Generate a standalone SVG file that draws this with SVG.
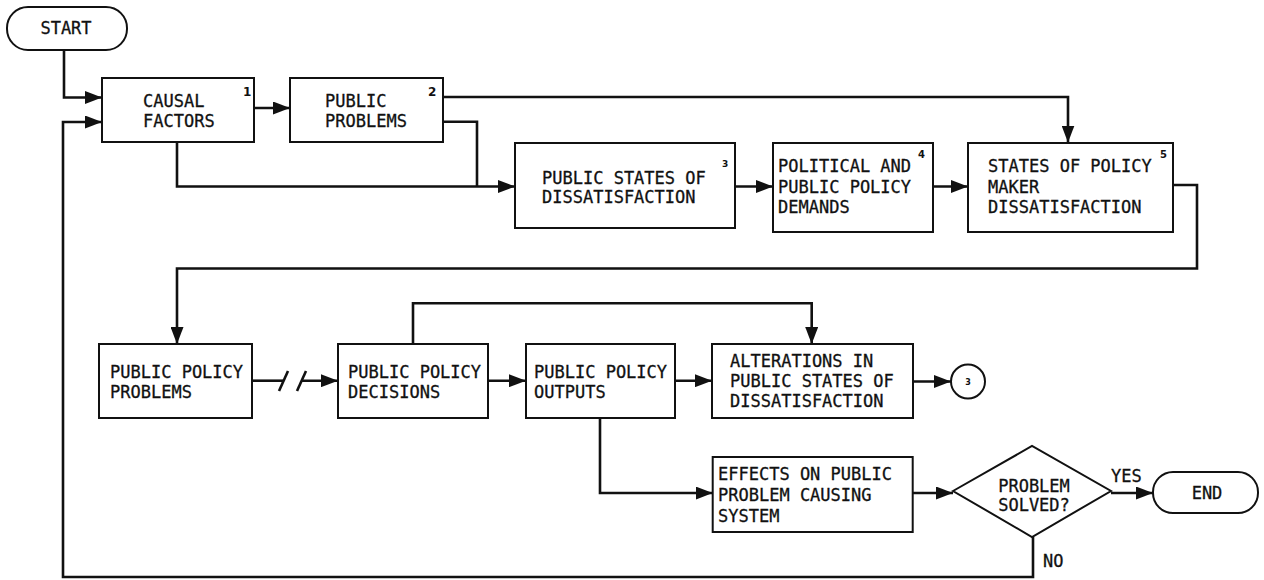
<svg xmlns="http://www.w3.org/2000/svg" width="1264" height="580" viewBox="0 0 1264 580">
  <style>
    .box { fill: #fff; stroke: #111; stroke-width: 2; }
    .wire { fill: none; stroke: #111; stroke-width: 2.6; stroke-linejoin: miter; }
    .lbl { font-family: "DejaVu Sans Mono", "Liberation Mono", monospace; font-size: 17px; fill: #111; stroke: #111; stroke-width: 0.3; }
    .mid { text-anchor: middle; }
    .num { font-family: "DejaVu Sans", "Liberation Sans", sans-serif; font-weight: bold; fill: #111; }
  </style>
  <defs>
    <marker id="arrow" markerUnits="userSpaceOnUse" markerWidth="17" markerHeight="13" refX="17" refY="6.5" orient="auto">
      <path d="M0,0 L17,6.5 L0,13 z" fill="#111"/>
    </marker>
  </defs>

  <rect width="1264" height="580" fill="#fff"/>

  <!-- connectors -->
  <g id="connectors">
    <path class="wire" d="M64,50 V97.5 H102" marker-end="url(#arrow)"/>
    <path class="wire" d="M1033,537 V577 H63 V122 H102" marker-end="url(#arrow)"/>
    <path class="wire" d="M254,108 H290" marker-end="url(#arrow)"/>
    <path class="wire" d="M177,142 V186.5 H515" marker-end="url(#arrow)"/>
    <path class="wire" d="M443,121.7 H477 V186.5"/>
    <path class="wire" d="M443,97 H1068 V142.5" marker-end="url(#arrow)"/>
    <path class="wire" d="M735,186.5 H773" marker-end="url(#arrow)"/>
    <path class="wire" d="M933,186.5 H968" marker-end="url(#arrow)"/>
    <path class="wire" d="M1173,185 H1197 V268.5 H177 V344" marker-end="url(#arrow)"/>
    <!-- broken-line link with two break strokes -->
    <path class="wire" d="M252,380.7 H284"/>
    <path class="wire" d="M279,391 L288,371"/>
    <path class="wire" d="M297,391 L306,371"/>
    <path class="wire" d="M302,380.7 H338" marker-end="url(#arrow)"/>
    <path class="wire" d="M488,380.7 H526" marker-end="url(#arrow)"/>
    <path class="wire" d="M413,344 V303.3 H811.7 V344" marker-end="url(#arrow)"/>
    <path class="wire" d="M675,380.7 H712" marker-end="url(#arrow)"/>
    <path class="wire" d="M913,381.5 H951" marker-end="url(#arrow)"/>
    <path class="wire" d="M600,418 V493 H712.7" marker-end="url(#arrow)"/>
    <path class="wire" d="M912.5,493 H953" marker-end="url(#arrow)"/>
    <path class="wire" d="M1111,493 H1153" marker-end="url(#arrow)"/>
  </g>

  <g id="start">
    <rect class="box" x="7" y="7" width="120" height="43" rx="21" ry="21"/>
    <text class="lbl mid" x="66" y="34">START</text>
  </g>

  <g id="causal-factors">
    <rect class="box" x="102" y="78" width="152" height="64"/>
    <text class="lbl" x="143" y="107">CAUSAL</text>
    <text class="lbl" x="143" y="127">FACTORS</text>
    <text class="num" x="243" y="96" font-size="12">1</text>
  </g>

  <g id="public-problems">
    <rect class="box" x="290" y="78" width="153" height="64"/>
    <text class="lbl" x="325" y="107">PUBLIC</text>
    <text class="lbl" x="325" y="127">PROBLEMS</text>
    <text class="num" x="428" y="96" font-size="12">2</text>
  </g>

  <g id="public-states">
    <rect class="box" x="515" y="143" width="220" height="85"/>
    <text class="lbl" x="542" y="184">PUBLIC STATES OF</text>
    <text class="lbl" x="542" y="203">DISSATISFACTION</text>
    <text class="num" x="722" y="167" font-size="9">3</text>
  </g>

  <g id="political-demands">
    <rect class="box" x="773" y="143" width="160" height="89"/>
    <text class="lbl" x="778" y="172">POLITICAL AND</text>
    <text class="lbl" x="778" y="193">PUBLIC POLICY</text>
    <text class="lbl" x="778" y="213">DEMANDS</text>
    <text class="num" x="918" y="158" font-size="10">4</text>
  </g>

  <g id="policy-maker-dissatisfaction">
    <rect class="box" x="968" y="143" width="205" height="89"/>
    <text class="lbl" x="988" y="172">STATES OF POLICY</text>
    <text class="lbl" x="988" y="193">MAKER</text>
    <text class="lbl" x="988" y="213">DISSATISFACTION</text>
    <text class="num" x="1160" y="158" font-size="10">5</text>
  </g>

  <g id="policy-problems">
    <rect class="box" x="99" y="344" width="153" height="74"/>
    <text class="lbl" x="110" y="378">PUBLIC POLICY</text>
    <text class="lbl" x="110" y="398">PROBLEMS</text>
  </g>

  <g id="policy-decisions">
    <rect class="box" x="338" y="344" width="150" height="74"/>
    <text class="lbl" x="348" y="378">PUBLIC POLICY</text>
    <text class="lbl" x="348" y="398">DECISIONS</text>
  </g>

  <g id="policy-outputs">
    <rect class="box" x="526" y="344" width="149" height="74"/>
    <text class="lbl" x="534" y="378">PUBLIC POLICY</text>
    <text class="lbl" x="534" y="398">OUTPUTS</text>
  </g>

  <g id="alterations">
    <rect class="box" x="712" y="344" width="201" height="74"/>
    <text class="lbl" x="730" y="367">ALTERATIONS IN</text>
    <text class="lbl" x="730" y="387">PUBLIC STATES OF</text>
    <text class="lbl" x="730" y="407">DISSATISFACTION</text>
  </g>

  <g id="connector-3">
    <circle class="box" cx="968" cy="381.5" r="17"/>
    <text class="num mid" x="968" y="385" font-size="8">3</text>
  </g>

  <g id="effects">
    <rect class="box" x="712.7" y="457" width="200" height="75"/>
    <text class="lbl" x="718" y="480">EFFECTS ON PUBLIC</text>
    <text class="lbl" x="718" y="501">PROBLEM CAUSING</text>
    <text class="lbl" x="718" y="522">SYSTEM</text>
  </g>

  <g id="problem-solved">
    <polygon class="box" points="953,491 1032,446 1111,491 1032,537"/>
    <text class="lbl mid" x="1034" y="492">PROBLEM</text>
    <text class="lbl mid" x="1034" y="511">SOLVED?</text>
    <text class="lbl" x="1111" y="482">YES</text>
    <text class="lbl" x="1043" y="567">NO</text>
  </g>

  <g id="end">
    <rect class="box" x="1153" y="472" width="105" height="41" rx="20" ry="20"/>
    <text class="lbl mid" x="1207" y="499">END</text>
  </g>
</svg>
